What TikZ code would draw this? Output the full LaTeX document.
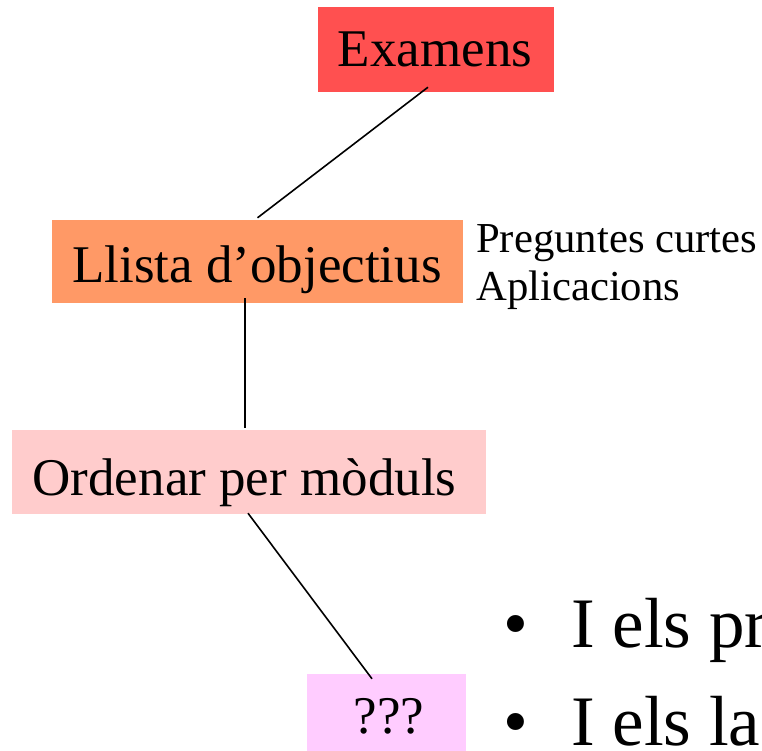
\documentclass[tikz,border=0pt]{standalone}
\usepackage{fontspec}
\setmainfont{Liberation Serif}
\definecolor{cred}{HTML}{FF5050}
\definecolor{corange}{HTML}{FF9966}
\definecolor{cpink}{HTML}{FFCCCC}
\definecolor{cviolet}{HTML}{FFCCFF}
\tikzset{
  rbox/.style={rectangle, draw=none, inner sep=0pt},
  big/.style={inner sep=0pt, anchor=base, font=\fontsize{53}{60}\selectfont},
  small/.style={inner sep=0pt, anchor=base west, font=\fontsize{42.7}{48}\selectfont},
  bul/.style={inner sep=0pt, anchor=base west, font=\fontsize{71}{80}\selectfont},
  conn/.style={line width=1.6pt, black}
}
\begin{document}
\begin{tikzpicture}[x=1pt,y=-1pt]
\useasboundingbox (0,0) rectangle (762,751);
% boxes
\node[rbox, fill=cred, minimum width=236pt, minimum height=85pt] (ex) at (436,49.5) {};
\node[rbox, fill=corange, minimum width=411pt, minimum height=83pt] (ll) at (257.5,261.5) {};
\node[rbox, fill=cpink, minimum width=474pt, minimum height=84pt] (or) at (249,472) {};
\node[rbox, fill=cviolet, minimum width=159pt, minimum height=84pt] (qq) at (386.5,716) {};
% texts
\node[big] (tex) at (435,67) {Examens};
\node[big] (tll) at (257,282) {Llista d’objectius};
\node[big] (tor) at (244.5,495) {Ordenar per mòduls};
\node[big] (tqq) at (389,733) {???};
\node[small] (p1) at (476,252) {Preguntes curtes};
\node[small] (p2) at (476,300) {Aplicacions};
% bullets
\node[bul] (b1) at (503.5,647) {\textbullet};
\node[bul] (t1) at (571,647) {I els pr};
\node[bul] (b2) at (503.5,745) {\textbullet};
\node[bul] (t2) at (571,745) {I els la};
% connectors
\draw[conn] ([shift={(-8,-5)}]ex.south) -- ([shift={(0,-2)}]ll.north);
\draw[conn] ([shift={(-12.5,-5)}]ll.south) -- ([shift={(-4,-2)}]or.north);
\draw[conn] ([shift={(-1,-1)}]or.south) -- ([shift={(-14.5,5)}]qq.north);
\end{tikzpicture}
\end{document}
